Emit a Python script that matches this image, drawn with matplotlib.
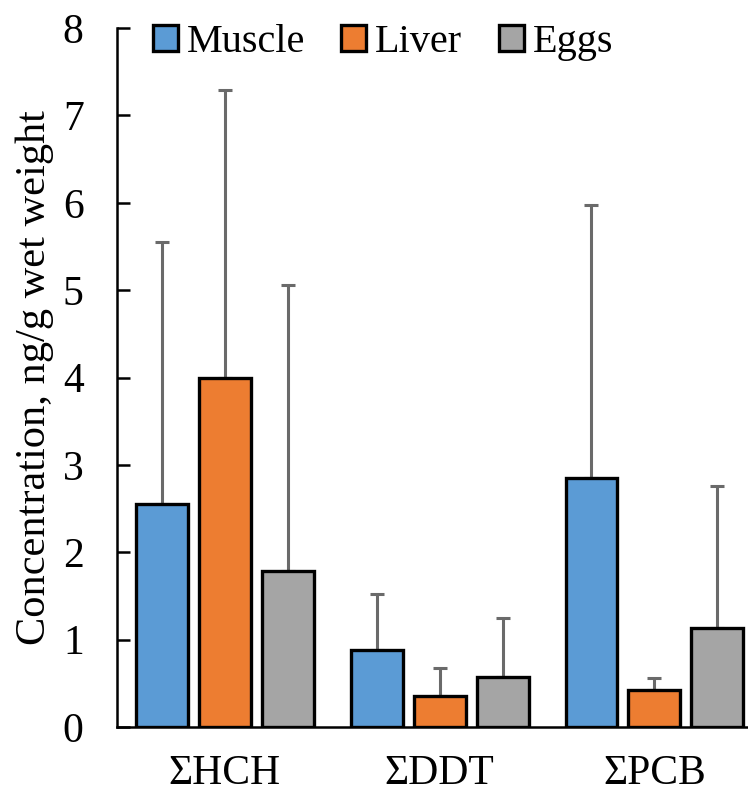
import matplotlib.pyplot as plt
import numpy as np

plt.rcParams['font.family'] = ['Liberation Serif', 'DejaVu Serif']

groups = ['ΣHCH', 'ΣDDT', 'ΣPCB']
tissues = ['Muscle', 'Liver', 'Eggs']
colors = ['#5B9BD5', '#ED7D31', '#A5A5A5']

# means and upper error (sd)
muscle = [2.55, 0.88, 2.85]
liver = [4.00, 0.36, 0.42]
eggs = [1.79, 0.57, 1.13]
muscle_err = [3.00, 0.64, 3.12]
liver_err = [3.29, 0.32, 0.14]
eggs_err = [3.27, 0.68, 1.63]

means = [muscle, liver, eggs]
errs = [muscle_err, liver_err, eggs_err]

fig = plt.figure(figsize=(7.48, 7.94), dpi=100)
ax = fig.add_axes([0.1564, 0.0844, 0.842, 0.8803])

x = np.arange(len(groups))
pitch = 0.293
width = 0.242
for i in range(3):
    pos = x + (i - 1) * pitch
    ax.bar(pos, means[i], width, color=colors[i], edgecolor='black',
           linewidth=2.4, label=tissues[i], zorder=2)
    ax.errorbar(pos, means[i], yerr=[np.zeros(3), errs[i]], fmt='none',
                ecolor='#6a6a6a', elinewidth=2.2, capsize=5, capthick=2.2, zorder=1)

ax.set_xlim(-0.502, 2.43)
ax.set_ylim(0, 8)
ax.set_yticks(range(0, 9))
ax.set_xticks(x)
ax.set_xticklabels(groups)
ax.spines['top'].set_visible(False)
ax.spines['right'].set_visible(False)
ax.spines['left'].set_linewidth(1.8)
ax.spines['bottom'].set_linewidth(1.8)
ax.tick_params(axis='y', direction='in', length=9, width=1.8, pad=24, labelsize=30)
ax.tick_params(axis='x', length=0, pad=20, labelsize=30)
ax.set_ylabel('Concentration, ng/g wet weight', fontsize=30.5, labelpad=6)

ax.legend(loc='upper left', bbox_to_anchor=(0.057, 1.006), ncol=3, frameon=False,
          fontsize=29, handlelength=0.62, handleheight=0.62, handletextpad=0.22,
          columnspacing=0.9, borderpad=0, borderaxespad=0)

fig.savefig('out.png', dpi=100)
